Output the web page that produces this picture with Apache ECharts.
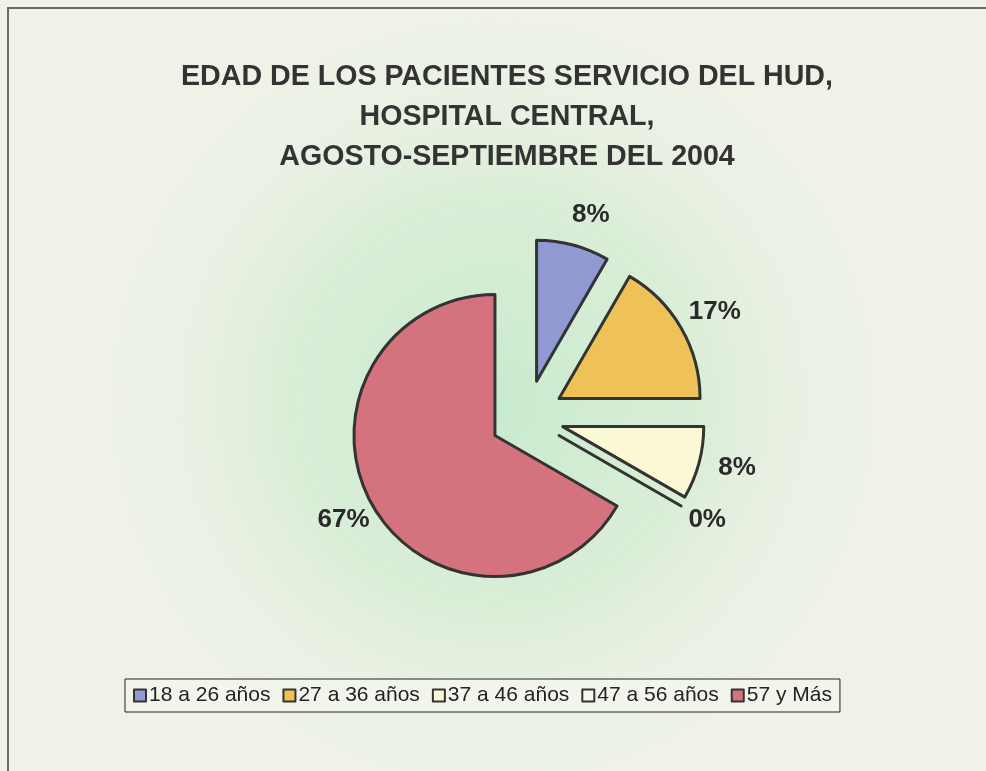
<!DOCTYPE html>
<html><head><meta charset="utf-8">
<script src="https://cdn.jsdelivr.net/npm/echarts@6/dist/echarts.min.js"></script>
<style>
html,body{margin:0;padding:0;background:#eef2e7;}
#frame{position:absolute;left:7px;top:7px;width:1000px;height:800px;border-left:2px solid #6a6a66;border-top:2px solid #6a6a66;}
#chart{position:absolute;left:0;top:0;width:986px;height:771px;}
</style></head>
<body>
<div id="frame"></div>
<div id="chart"></div>
<script>
const titleLines = ['EDAD DE LOS PACIENTES SERVICIO DEL HUD,', 'HOSPITAL CENTRAL,', 'AGOSTO-SEPTIEMBRE DEL 2004'];
const categories = ['18 a 26 años', '27 a 36 años', '37 a 46 años', '47 a 56 años', '57 y Más'];
const values = [1, 2, 1, 0, 8];
const colors = ['#9199d3', '#eec257', '#fbf8d6', '#f6f7e8', '#d4737d'];

// label placement tweaks (per slice index): leader length and text distance
const labelLen = [31, 32, 17, 28, 28];
const labelDist = [-9, -20, 3, -17, -21];

const chart = echarts.init(document.getElementById('chart'), null, {renderer: 'canvas'});
chart.setOption({
  backgroundColor: {
    type: 'radial', x: 0.5, y: 0.52, r: 0.5,
    colorStops: [
      {offset: 0, color: 'rgba(196,234,204,0.95)'},
      {offset: 0.55, color: 'rgba(212,236,210,0.75)'},
      {offset: 1, color: 'rgba(238,242,231,0)'}
    ]
  },
  title: {
    text: titleLines.join('\n'),
    left: 502, top: 52, textAlign: 'center',
    textStyle: {fontFamily: 'Liberation Sans, Arial', fontWeight: 'bold', fontSize: 28.6, lineHeight: 40, color: '#333'}
  },
  legend: {
    bottom: 59, left: 125,
    itemWidth: 12, itemHeight: 12, itemGap: 12,
    icon: 'rect',
    padding: [6, 8],
    borderColor: '#222', borderWidth: 1,
    backgroundColor: '#f2f5ec',
    textStyle: {fontFamily: 'Liberation Sans, Arial', fontSize: 21, color: '#222', padding: [0, 0, 0, -2]},
    itemStyle: {borderColor: '#333', borderWidth: 2}
  },
  series: [{
    type: 'pie',
    center: [527, 417],
    radius: 141,
    startAngle: 90,
    clockwise: true,
    selectedMode: 'multiple',
    selectedOffset: 37,
    avoidLabelOverlap: false,
    percentPrecision: 0,
    animation: false,
    itemStyle: {borderColor: '#333', borderWidth: 3},
    emphasis: {disabled: true},
    label: {
      show: true, position: 'outside', formatter: '{d}%',
      fontFamily: 'Liberation Sans, Arial', fontWeight: 'bold', fontSize: 26, color: '#2a2a2a'
    },
    labelLine: {show: false, length: 12, length2: 0},
    data: categories.map((c, i) => ({
      name: c, value: values[i], selected: true,
      itemStyle: {color: colors[i]},
      label: {distanceToLabelLine: labelDist[i]},
      labelLine: {length: labelLen[i]}
    }))
  }]
});
</script>
</body></html>
